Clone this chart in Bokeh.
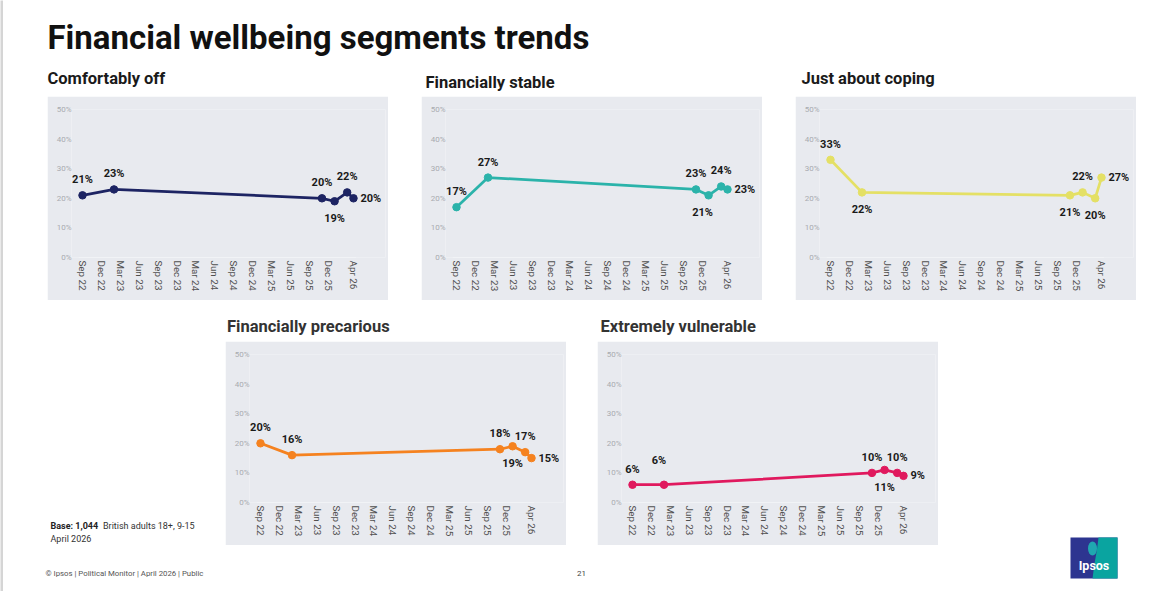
import pandas as pd
from bokeh.plotting import figure
from bokeh.layouts import row, column
from bokeh.models import Range1d, FixedTicker, ColumnDataSource, LabelSet, Spacer, PrintfTickFormatter
from bokeh.embed import file_html
from bokeh.resources import INLINE
from bokeh.core.properties import value

# ---------------- data ----------------
dates = ["Sep 22", "Feb 23", "Nov 25", "Jan 26", "Mar 26", "Apr 26"]
comfortably_off = [21, 23, 20, 19, 22, 20]
financially_stable = [17, 27, 23, 21, 24, 23]
just_about_coping = [33, 22, 21, 22, 20, 27]
financially_precarious = [20, 16, 18, 19, 17, 15]
extremely_vulnerable = [6, 6, 10, 11, 10, 9]
tick_labels = ["Sep 22", "Dec 22", "Mar 23", "Jun 23", "Sep 23", "Dec 23", "Mar 24",
               "Jun 24", "Sep 24", "Dec 24", "Mar 25", "Jun 25", "Sep 25", "Dec 25", "Apr 26"]
y_ticks = [0, 10, 20, 30, 40, 50]

# label placement (style)
place_1 = ["a", "a", "a", "b", "a", "r"]
place_2 = ["a", "a", "a", "bL", "a", "r"]
place_3 = ["a", "b", "b", "a", "b", "r"]
place_4 = ["a", "a", "a", "b", "a", "r"]
place_5 = ["a", "A", "a", "b", "a", "r"]

BG = "#e8eaef"
FONT = "Roboto"
BAR = 3  # width of the grey strip at the page's left edge


def month_index(lbl):
    d = pd.to_datetime(lbl, format="%b %y")
    return (d.year - 2022) * 12 + d.month - 9


def panel(vals, color, places):
    xs = [month_index(d) for d in dates]
    tick_pos = [month_index(t) for t in tick_labels]
    p = figure(width=341, height=204, x_range=Range1d(-1.745, 48.08), y_range=Range1d(0, 50),
               title=None, output_backend="svg", toolbar_location=None,
               min_border_left=24, min_border_right=3, min_border_top=13, min_border_bottom=43,
               background_fill_color=BG, border_fill_color=BG, outline_line_color=None)
    p.xgrid.visible = False
    p.ygrid.visible = False
    p.segment(x0=[tick_pos[0] - 0.6], x1=[tick_pos[-1] + 0.4], y0=[0], y1=[0],
              line_color="#f6f7f9", line_width=1)
    src = ColumnDataSource(dict(x=xs, y=vals))
    p.line("x", "y", source=src, line_color=color, line_width=2.75)
    p.scatter("x", "y", source=src, size=7.5, fill_color=color, line_color=color)

    p.xaxis.ticker = FixedTicker(ticks=tick_pos)
    p.xaxis.major_label_overrides = {pos: lbl for pos, lbl in zip(tick_pos, tick_labels)}
    p.xaxis.major_label_orientation = "vertical"
    p.xaxis.major_label_text_font = FONT
    p.xaxis.major_label_text_font_size = "9.8px"
    p.xaxis.major_label_text_color = "#505050"
    p.xaxis.major_label_standoff = 3
    p.xaxis.axis_line_color = None

    p.yaxis.ticker = FixedTicker(ticks=y_ticks)
    p.yaxis.formatter = PrintfTickFormatter(format="%d%%")
    p.yaxis.major_label_text_font = FONT
    p.yaxis.major_label_text_font_size = "8px"
    p.yaxis.major_label_text_color = "#a9abb0"
    p.yaxis.major_label_standoff = 0
    p.yaxis.axis_line_color = None
    for ax in (p.xaxis, p.yaxis):
        ax.major_tick_in = 0
        ax.major_tick_out = 0
        ax.minor_tick_line_color = None

    specs = {
        "a": dict(x_offset=0, y_offset=9, text_align="center", text_baseline="bottom"),
        "A": dict(x_offset=-5, y_offset=18, text_align="center", text_baseline="bottom"),
        "b": dict(x_offset=0, y_offset=-11, text_align="center", text_baseline="top"),
        "bL": dict(x_offset=-6, y_offset=-11, text_align="center", text_baseline="top"),
        "r": dict(x_offset=7, y_offset=0, text_align="left", text_baseline="middle"),
    }
    for key, sp in specs.items():
        idx = [i for i, k in enumerate(places) if k == key]
        if not idx:
            continue
        s = ColumnDataSource(dict(x=[xs[i] for i in idx], y=[vals[i] for i in idx],
                                  t=[f"{vals[i]}%" for i in idx]))
        p.add_layout(LabelSet(x="x", y="y", text="t", source=s, text_font=value(FONT),
                              text_font_style="bold", text_font_size="11px",
                              text_color="#1a1a1a", **sp))
    return p


def canvas(w, h, fill="white"):
    c = figure(width=w, height=h, x_range=Range1d(0, w), y_range=Range1d(h, 0),
               title=None, x_axis_type=None, y_axis_type=None, output_backend="svg",
               toolbar_location=None, min_border=0, min_border_left=0, min_border_right=0,
               min_border_top=0, min_border_bottom=0, outline_line_color=None,
               background_fill_color=fill, border_fill_color=fill)
    c.xgrid.visible = False
    c.ygrid.visible = False
    return c


def txt(c, x, y, t, size, bold=True, color="#111111", align="left"):
    # y is the wanted baseline; compensate the renderer's baseline shift
    c.text(x=[x], y=[y - 0.32 * size], text=[t], text_font=value(FONT),
           text_font_style="bold" if bold else "normal", text_font_size=f"{size}px",
           text_color=color, text_align=align, text_baseline="alphabetic")


# header (local x = page x - BAR)
head = canvas(1150 - BAR, 96)
txt(head, 47 - BAR, 48, "Financial wellbeing segments trends", 33)
txt(head, 47 - BAR, 83, "Comfortably off", 16.5, color="#1a1a1a")
txt(head, 425 - BAR, 87, "Financially stable", 16.5, color="#1a1a1a")
txt(head, 801 - BAR, 83, "Just about coping", 16.5, color="#1a1a1a")

mid = canvas(1150 - BAR, 41)
txt(mid, 226.5 - BAR, 31, "Financially precarious", 16.5, color="#333333")
txt(mid, 600 - BAR, 31, "Extremely vulnerable", 16.5, color="#333333")

p1 = panel(comfortably_off, "#1d2463", place_1)
p2 = panel(financially_stable, "#2bb3aa", place_2)
p3 = panel(just_about_coping, "#e4e065", place_3)
p4 = panel(financially_precarious, "#f5821f", place_4)
p5 = panel(extremely_vulnerable, "#e0195e", place_5)

# bottom left: base note + copyright (local = page - (BAR, 341))
left = canvas(225 - BAR, 250)
txt(left, 50 - BAR, 528 - 341, "Base: 1,044", 9, color="#222222")
txt(left, 102.5 - BAR, 528 - 341, "British adults 18+, 9-15", 9, bold=False, color="#333333")
txt(left, 50 - BAR, 541 - 341, "April 2026", 9, bold=False, color="#333333")
txt(left, 45 - BAR, 575.5 - 341, "\u00a9 Ipsos | Political Monitor | April 2026 | Public", 7.8,
    bold=False, color="#555555")

gap = canvas(31, 250)
txt(gap, 15, 576 - 341, "21", 8, bold=False, color="#444444", align="center")

# logo (local = page - (938, 341))
right = canvas(212, 250)
right.quad(left=132, right=179, top=196, bottom=237, fill_color="#2d3590", line_color=None)
right.patch(x=[160, 179, 179, 154, 156, 158.5, 160], y=[196, 196, 237, 237, 222, 208, 196],
            fill_color="#0aa4a0", line_color=None)
right.ellipse(x=[154], y=[207], width=9, height=14, fill_color="#1fa8b0", line_color=None)
txt(right, 155.5, 569 - 341, "Ipsos", 12.5, color="white", align="center")

strip = canvas(BAR, 591, fill="#d5d5d5")

top_row = row(Spacer(width=47 - BAR, height=204), p1, Spacer(width=33, height=204), p2,
              Spacer(width=33, height=204), p3)
bottom_row = row(left, column(p4, Spacer(width=341, height=46)), gap,
                 column(p5, Spacer(width=341, height=46)), right)

layout = row(strip, column(head, top_row, mid, bottom_row))

open("out.html", "w").write(file_html(layout, INLINE))
